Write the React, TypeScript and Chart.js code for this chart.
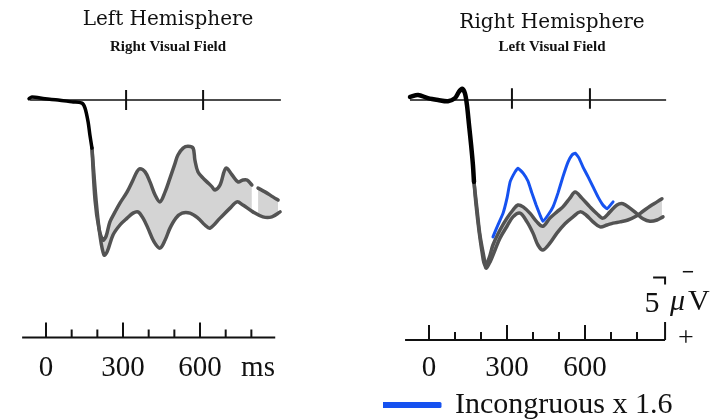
import React, { useEffect, useRef } from "react";
import { Chart, registerables } from "chart.js";

Chart.register(...registerables);

// ---------- data (time in ms, amplitude in µV, negative plotted up) ----------
// Left hemisphere / right visual field
const L_EARLY_MS = [-66, -55, -4, 47, 101, 140, 152, 164, 171, 179];
const L_EARLY_UV = [-0.1, -0.25, -0.1, 0.0, 0.15, 0.25, 0.65, 1.75, 2.8, 3.85];
const L_UPPER_MS = [179, 191, 206, 222, 234, 249, 269, 288, 316, 339, 354, 366, 386, 405, 425, 444, 464, 483, 503, 514, 534, 553, 573, 580, 592, 612, 627, 647, 658, 678, 701, 725, 748, 767, 783, 802, 814, 826, 853, 884, 904];
const L_UPPER_UV = [3.85, 8.0, 10.25, 11.2, 10.9, 9.75, 8.95, 8.25, 7.35, 6.4, 5.75, 5.5, 5.75, 6.55, 7.6, 8.15, 7.35, 6.25, 5.05, 4.4, 3.85, 3.7, 3.85, 4.8, 5.75, 6.25, 6.55, 6.95, 7.2, 6.8, 5.45, 6.0, 6.55, 6.4, 6.4, 6.8, null, 7.05, 7.35, 7.75, 8.0];
const L_LOWER_MS = [179, 195, 210, 226, 238, 261, 288, 316, 339, 358, 378, 397, 421, 444, 464, 483, 506, 530, 561, 592, 619, 639, 678, 717, 744, 767, 806, 845, 880, 912];
const L_LOWER_UV = [3.85, 8.0, 10.8, 12.4, 12.15, 10.8, 10.0, 9.45, 9.05, 8.95, 9.45, 10.25, 11.35, 11.85, 11.2, 10.25, 9.45, 9.05, 9.05, 9.45, 10.0, 10.25, 9.45, 8.65, 8.15, 8.4, 8.95, 9.35, 9.35, 8.95];
const L_BASELINE_MS = [-62, 915];
const L_BASE_TICKS_MS = [312, 612];
const L_AXIS_MS = [-93, 893];
const L_AXIS_UV = 19.0;

// Right hemisphere / left visual field
const R_EARLY_MS = [-73, -42, -4, 35, 73, 100, 115, 127, 138, 146, 154, 162, 169, 173];
const R_EARLY_UV = [-0.25, -0.4, -0.15, 0.0, 0.1, -0.15, -0.65, -0.9, -0.55, 0.4, 2.0, 3.6, 5.2, 6.55];
const R_UPPER_MS = [173, 181, 192, 204, 215, 231, 246, 273, 300, 323, 342, 362, 388, 415, 438, 465, 492, 515, 542, 562, 588, 619, 646, 669, 696, 723, 746, 773, 800, 823, 850, 877, 900];
const R_UPPER_UV = [6.55, 8.4, 10.4, 12.15, 13.2, 12.65, 11.6, 10.4, 9.45, 8.8, 8.4, 8.55, 9.05, 9.75, 10.1, 9.45, 8.95, 8.55, 7.85, 7.35, 7.85, 8.55, 9.1, 9.45, 8.95, 8.4, 8.3, 8.65, 9.1, 9.5, 9.7, 9.6, 9.35];
const R_LOWER_MS = [173, 185, 196, 212, 219, 235, 254, 273, 300, 323, 350, 377, 400, 419, 438, 465, 492, 523, 554, 581, 604, 631, 658, 685, 708, 735, 765, 796, 823, 850, 877, 896];
const R_LOWER_UV = [6.55, 8.8, 10.8, 12.65, 13.45, 12.95, 12.0, 11.05, 10.1, 9.35, 9.05, 9.75, 10.65, 11.6, 12.0, 11.45, 10.65, 9.9, 9.35, 8.95, 9.2, 9.75, 10.15, 10.0, 9.85, 9.75, 9.6, 9.3, 8.9, 8.5, 8.15, 7.9];
const R_BLUE_MS = [246, 265, 285, 300, 312, 331, 342, 362, 381, 396, 412, 427, 438, 458, 477, 496, 515, 535, 550, 562, 577, 592, 612, 631, 650, 669, 685, 708];
const R_BLUE_UV = [10.95, 10.0, 9.05, 7.85, 6.55, 5.75, 5.45, 5.85, 6.5, 7.45, 8.4, 9.2, 9.7, 9.2, 8.55, 7.45, 6.15, 4.95, 4.4, 4.25, 4.65, 5.35, 6.15, 6.95, 7.75, 8.4, 8.7, 8.15];
const R_BASELINE_MS = [-73, 912];
const R_BASE_TICKS_MS = [319, 619];
const R_AXIS_MS = [-92, 908];
const R_AXIS_UV = 19.2;
const R_SCALE_BAR_MS = [862, 908, 908, 908, 908, 908];
const R_SCALE_BAR_UV = [14.2, 14.2, 14.75, null, 17.75, 19.2];

// Axis ticks and labels
const AXIS_TICKS_MS = [0, 100, 200, 300, 400, 500, 600, 700, 800];
const MAJOR_TICKS_MS = [0, 300, 600];
const L_TICK_VALUES = [0, 300, 600, 826];
const L_TICK_LABELS = ["0", "300", "600", "ms"];
const R_TICK_VALUES = [0, 300, 600];
const R_TICK_LABELS = ["0", "300", "600"];

// Texts
const L_TITLE = "Left Hemisphere";
const L_SUBTITLE = "Right Visual Field";
const R_TITLE = "Right Hemisphere";
const R_SUBTITLE = "Left Visual Field";
const LEGEND_LABEL = "Incongruous x 1.6";
const SCALE_VALUE = "5";
const SCALE_MU = "μ";
const SCALE_V = "V";
const NEG_SIGN = "−";
const POS_SIGN = "+";

// ---------- styles ----------
const INK = "#111111";
const GREY = "#535353";
const FILL = "rgba(0,0,0,0.17)";
const BLUE = "#1652f0";
const SERIF = "'Liberation Serif', 'Times New Roman', serif";
const TITLE_SERIF = "'DejaVu Serif', Georgia, serif";

type Pt = { x: number; y: number | null };
const zip = (xs: number[], ys: (number | null)[]): Pt[] => xs.map((x, i) => ({ x, y: ys[i] }));

function tickMarks(ms: number[], major: number[], base: number, majorLen: number, minorLen: number): Pt[] {
  const out: Pt[] = [];
  ms.forEach((t) => {
    out.push({ x: t, y: base });
    out.push({ x: t, y: base - (major.includes(t) ? majorLen : minorLen) });
    out.push({ x: t, y: null });
  });
  return out;
}

function baseTicks(ms: number[], top: number, bottom: number): Pt[] {
  const out: Pt[] = [];
  ms.forEach((t) => {
    out.push({ x: t, y: top });
    out.push({ x: t, y: bottom });
    out.push({ x: t, y: null });
  });
  return out;
}

const plain = (extra: any) => ({
  pointRadius: 0,
  spanGaps: false,
  fill: false,
  tension: 0,
  borderColor: INK,
  borderWidth: 2,
  label: "",
  ...extra,
});

const textPlugin = {
  id: "scaleText",
  afterDraw(chart: any, _args: any, opts: any) {
    const items = (opts && opts.items) || [];
    const { ctx } = chart;
    const x = chart.scales.x;
    const y = chart.scales.y;
    ctx.save();
    items.forEach((it: any) => {
      ctx.font = it.font;
      ctx.fillStyle = INK;
      ctx.textAlign = it.align;
      ctx.textBaseline = "alphabetic";
      ctx.fillText(it.text, x.getPixelForValue(it.ms), y.getPixelForValue(it.uv));
    });
    ctx.restore();
  },
};

function makeConfig(side: "L" | "R"): any {
  const isL = side === "L";
  const datasets: any[] = [];
  if (!isL) {
    datasets.push(
      plain({
        label: LEGEND_LABEL,
        data: zip(R_BLUE_MS, R_BLUE_UV),
        borderColor: BLUE,
        backgroundColor: BLUE,
        borderWidth: 3,
        tension: 0.12,
        borderJoinStyle: "round",
        borderCapStyle: "round",
      })
    );
  }
  datasets.push(
    plain({
      data: zip(isL ? L_EARLY_MS : R_EARLY_MS, isL ? L_EARLY_UV : R_EARLY_UV),
      borderColor: "#000",
      borderWidth: isL ? 3.5 : 4.5,
      tension: 0.3,
      borderCapStyle: "round",
    })
  );
  datasets.push(
    plain({
      data: zip(isL ? L_UPPER_MS : R_UPPER_MS, isL ? L_UPPER_UV : R_UPPER_UV),
      borderColor: GREY,
      borderWidth: 3.5,
      tension: 0.35,
      fill: { target: "+1" },
      backgroundColor: FILL,
      borderCapStyle: "round",
    })
  );
  datasets.push(
    plain({
      data: zip(isL ? L_LOWER_MS : R_LOWER_MS, isL ? L_LOWER_UV : R_LOWER_UV),
      borderColor: GREY,
      borderWidth: 3.5,
      tension: 0.35,
      borderCapStyle: "round",
    })
  );
  datasets.push(
    plain({
      data: zip(isL ? L_BASELINE_MS : R_BASELINE_MS, [0, 0]),
      borderWidth: 1.6,
    })
  );
  datasets.push(
    plain({
      data: isL ? baseTicks(L_BASE_TICKS_MS, -0.8, 0.8) : baseTicks(R_BASE_TICKS_MS, -0.95, 0.7),
      borderWidth: 2,
    })
  );
  const axisUV = isL ? L_AXIS_UV : R_AXIS_UV;
  datasets.push(
    plain({
      data: zip(isL ? L_AXIS_MS : R_AXIS_MS, [axisUV, axisUV]),
      borderWidth: 2,
    })
  );
  datasets.push(
    plain({
      data: tickMarks(AXIS_TICKS_MS, MAJOR_TICKS_MS, axisUV, 1.2, 0.65),
      borderWidth: 2,
    })
  );
  if (!isL) {
    datasets.push(
      plain({
        data: zip(R_SCALE_BAR_MS, R_SCALE_BAR_UV),
        borderWidth: 2,
      })
    );
  }

  const tickValues = isL ? L_TICK_VALUES : R_TICK_VALUES;
  const tickLabels = isL ? L_TICK_LABELS : R_TICK_LABELS;

  return {
    type: "line",
    data: { datasets },
    plugins: isL ? [] : [textPlugin],
    options: {
      responsive: false,
      animation: false,
      events: [],
      layout: { padding: isL ? { left: 20, right: 47, top: 0, bottom: 0 } : { left: 20, right: 5, top: 0, bottom: 0 } },
      scales: {
        x: {
          type: "linear",
          position: "bottom",
          min: isL ? -101.3 : -176.9,
          max: isL ? 1051.8 : 1123.1,
          grid: { display: false },
          border: { display: false },
          afterBuildTicks: (s: any) => {
            s.ticks = tickValues.map((v) => ({ value: v }));
          },
          afterFit: (s: any) => {
            s.height = isL ? 77 : 47;
          },
          ticks: {
            autoSkip: false,
            maxRotation: 0,
            minRotation: 0,
            padding: 0,
            color: INK,
            font: { family: SERIF, size: 29 },
            callback: (v: any) => {
              const i = tickValues.indexOf(Number(v));
              return i >= 0 ? tickLabels[i] : "";
            },
          },
        },
        y: { type: "linear", display: false, reverse: true, min: -3, max: 19.44 },
      },
      plugins: {
        tooltip: { enabled: false },
        filler: { drawTime: "beforeDatasetsDraw" },
        legend: isL
          ? { display: false }
          : {
              display: true,
              position: "bottom",
              align: "start",
              fullSize: true,
              labels: {
                boxWidth: 57,
                boxHeight: 3,
                padding: 0,
                color: INK,
                font: { family: SERIF, size: 30 },
                filter: (item: any) => item.text === LEGEND_LABEL,
              },
            },
        title: {
          display: true,
          text: isL ? L_TITLE : R_TITLE,
          color: INK,
          font: { family: TITLE_SERIF, size: 20, weight: "normal", lineHeight: 1.2 },
          padding: isL ? { top: 8, bottom: 0 } : { top: 10.5, bottom: 0 },
        },
        subtitle: {
          display: true,
          text: isL ? L_SUBTITLE : R_SUBTITLE,
          color: INK,
          font: { family: SERIF, size: 15, weight: "bold", lineHeight: 1.2 },
          padding: isL ? { top: 6, bottom: 6.5 } : { top: 3.2, bottom: 6.8 },
        },
        scaleText: {
          items: isL
            ? []
            : [
                { text: SCALE_VALUE, ms: 858, uv: 16.96, font: `30px ${SERIF}`, align: "center" },
                { text: SCALE_MU, ms: 927, uv: 16.8, font: `italic 30px ${SERIF}`, align: "left" },
                { text: SCALE_V, ms: 996, uv: 16.8, font: `30px ${SERIF}`, align: "left" },
                { text: NEG_SIGN, ms: 996, uv: 14.3, font: `bold 22px ${SERIF}`, align: "center" },
                { text: POS_SIGN, ms: 988, uv: 19.68, font: `28px ${SERIF}`, align: "center" },
              ],
        },
      },
    },
  };
}

export default function App() {
  const leftRef = useRef<HTMLCanvasElement | null>(null);
  const rightRef = useRef<HTMLCanvasElement | null>(null);

  useEffect(() => {
    const charts: Chart[] = [];
    if (leftRef.current) charts.push(new Chart(leftRef.current, makeConfig("L")));
    if (rightRef.current) charts.push(new Chart(rightRef.current, makeConfig("R")));
    return () => charts.forEach((c) => c.destroy());
  }, []);

  return (
    <div
      style={{
        position: "fixed",
        left: 0,
        top: 0,
        width: 726,
        height: 420,
        overflow: "hidden",
        background: "#ffffff",
      }}
    >
      <canvas ref={leftRef} width={363} height={420} style={{ position: "absolute", left: 0, top: 0 }} />
      <canvas ref={rightRef} width={363} height={430} style={{ position: "absolute", left: 363, top: 0 }} />
    </div>
  );
}
